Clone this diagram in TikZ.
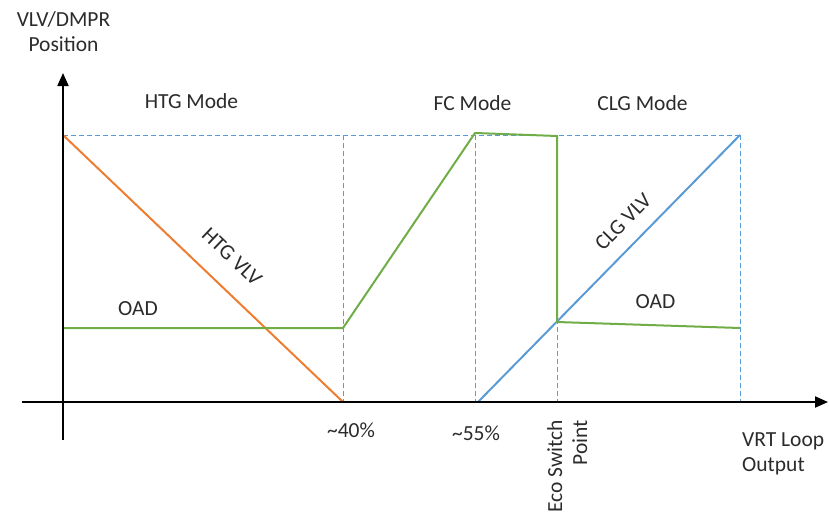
\documentclass[tikz,border=0pt]{standalone}
\usepackage{fontspec}
\setmainfont{Carlito}
\usetikzlibrary{arrows.meta}
\definecolor{ocol}{HTML}{ED7D31}
\definecolor{gcol}{HTML}{70AD47}
\definecolor{bcol}{HTML}{5B9BD5}
\definecolor{txt}{HTML}{2B2B2B}
\begin{document}
\begin{tikzpicture}[x=1pt,y=-1pt,
  lbl/.style={font=\fontsize{21.5}{25}\selectfont, text=txt, inner sep=0pt},
  guide/.style={draw=bcol, line width=1pt, dash pattern=on 4.5pt off 3.5pt},
  axisline/.style={line width=2pt, draw=black, -{Triangle[length=13pt,width=11pt]}},
  curve/.style={line width=2pt, line join=round}]
\useasboundingbox (0,0) rectangle (829,519);
% coordinates
\coordinate (ybot) at (63,440);
\coordinate (ytop) at (63,73);
\coordinate (xleft) at (22,402);
\coordinate (xright) at (828,402);
\coordinate (t0) at (63,135);
\coordinate (t1) at (343,135);
\coordinate (t2) at (475,135);
\coordinate (t3) at (557,135);
\coordinate (t4) at (740,135);
\coordinate (b1) at (343,402);
\coordinate (b2) at (475,402);
\coordinate (b3) at (557,403);
\coordinate (b4) at (740,402);
\coordinate (g0) at (63,328);
\coordinate (g1) at (343,328);
\coordinate (g2) at (475,133);
\coordinate (g3) at (557,136);
\coordinate (g4) at (557,322);
\coordinate (g5) at (740,328);
\coordinate (c0) at (478,402);
% guides
\draw[guide] (t0) -- (t4);
\draw[guide] (t1) -- (b1);
\draw[guide] (t2) -- (b2);
\draw[guide] (t3) -- (b3);
\draw[guide] (t4) -- (b4);
% curves
\draw[curve, draw=ocol] (t0) -- (b1);
\draw[curve, draw=bcol] (c0) -- (t4);
\draw[curve, draw=gcol] (g0) -- (g1) -- (g2) -- (g3) -- (g4) -- (g5);
% axes
\draw[axisline] (ybot) -- (ytop);
\draw[axisline] (xleft) -- (xright);
% labels
\node[lbl, align=center, anchor=base] (ylab) at (63.5,52) {VLV/DMPR\\Position};
\node[lbl, anchor=base] (htgmode) at (191.5,108) {HTG Mode};
\node[lbl, anchor=base] (fcmode) at (472.5,110) {FC Mode};
\node[lbl, anchor=base] (clgmode) at (642.5,110) {CLG Mode};
\node[lbl, anchor=base] (oad1) at (138,315) {OAD};
\node[lbl, anchor=base] (oad2) at (655.5,308) {OAD};
\node[lbl, rotate=-43.6] (htgvlv) at (232,257) {HTG VLV};
\node[lbl, rotate=45.5] (clgvlv) at (623,222) {CLG VLV};
\node[lbl, anchor=base] (p40) at (351,437) {\char`\~40\%};
\node[lbl, anchor=base] (p55) at (476,440) {\char`\~55\%};
\node[lbl, rotate=90, align=right, anchor=base east] (eco) at (587,420) {Eco Switch\\Point};
\node[lbl, align=left, anchor=base west] (xlab) at (742,471) {VRT Loop\\Output};
\end{tikzpicture}
\end{document}
